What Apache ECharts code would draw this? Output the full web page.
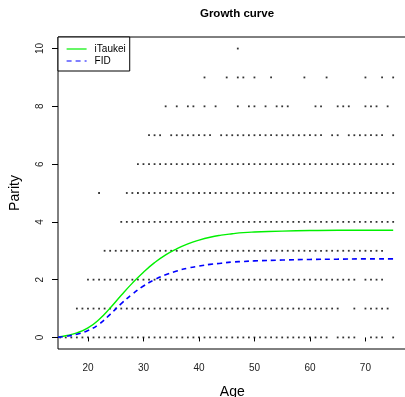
<!DOCTYPE html>
<html>
<head>
<meta charset="utf-8">
<script src="https://cdn.jsdelivr.net/npm/echarts@6/dist/echarts.min.js"></script>
<style>
  html, body { margin: 0; padding: 0; background: #fff; }
  #chart { width: 405px; height: 397px; }
</style>
</head>
<body>
<div id="chart"></div>
<script>
// Observed ages (years) at which each parity value occurs
const parity0Ages = [15,16,17,18,19,20,21,22,23,24,25,26,27,28,29,30,31,32,33,34,35,36,37,38,39,40,41,42,43,44,45,46,47,48,49,50,51,52,53,54,55,56,57,58,59,60,61,62,63,65,66,67,68,71,72,73,75];
const parity1Ages = [18,19,20,21,22,23,24,25,26,27,28,29,30,31,32,33,34,35,36,37,38,39,40,41,42,43,44,45,46,47,48,49,50,51,52,53,54,55,56,57,58,59,60,61,62,63,64,65,68,70,71,72,73,74];
const parity2Ages = [20,21,22,23,24,25,26,27,28,29,30,31,32,33,34,35,36,37,38,39,40,41,42,43,44,45,46,47,48,49,50,51,52,53,54,55,56,57,58,59,60,61,62,63,64,65,66,67,68,70,71,72,73];
const parity3Ages = [23,24,25,26,27,28,29,30,31,32,33,34,35,36,37,38,39,40,41,42,43,44,45,46,47,48,49,50,51,52,53,54,55,56,57,58,59,60,61,62,63,64,65,66,67,68,69,70,71,72,73];
const parity4Ages = [26,27,28,29,30,31,32,33,34,35,36,37,38,39,40,41,42,43,44,45,46,47,48,49,50,51,52,53,54,55,56,57,58,59,60,61,62,63,64,65,66,67,68,69,70,71,72,73,74,75];
const parity5Ages = [22,27,28,29,30,31,32,33,34,35,36,37,38,39,40,41,42,43,44,45,46,47,48,49,50,51,52,53,54,55,56,57,58,59,60,61,62,63,64,65,66,67,68,69,70,71,72,73,74,75];
const parity6Ages = [29,30,31,32,33,34,35,36,37,38,39,40,41,42,43,44,45,46,47,48,49,50,51,52,53,54,55,56,57,58,59,60,61,62,63,64,65,66,67,68,69,70,71,72,73,74,75];
const parity7Ages = [31,32,33,35,36,37,38,39,40,41,42,44,45,46,47,48,49,50,51,52,53,54,55,56,57,58,59,60,61,62,64,65,67,68,69,70,71,72,73,75];
const parity8Ages = [34,36,38,39,41,43,47,49,50,52,54,55,56,61,62,65,66,67,70,71,72,74];
const parity9Ages = [41,45,47,48,50,53,59,63,70,73,75];
const parity10Ages = [47];

// Fitted growth curves: mean parity by age
const curveAges     = [14.6, 16, 18, 20, 22, 24, 26, 28, 30, 32, 34, 36, 38, 40, 42, 44, 46, 48, 50, 55, 60, 65, 70, 75];
const iTaukeiParity = [0.02, 0.06, 0.16, 0.33, 0.62, 1.02, 1.46, 1.88, 2.26, 2.59, 2.86, 3.07, 3.24, 3.37, 3.47, 3.54, 3.59, 3.63, 3.65, 3.68, 3.70, 3.71, 3.71, 3.71];
const fidParity     = [0.01, 0.04, 0.11, 0.24, 0.46, 0.80, 1.17, 1.50, 1.78, 2.00, 2.17, 2.30, 2.40, 2.47, 2.53, 2.57, 2.61, 2.63, 2.65, 2.68, 2.70, 2.71, 2.72, 2.72];

// Axis tick labels
const ageTicks = [20, 30, 40, 50, 60, 70];
const parityTicks = [0, 2, 4, 6, 8, 10];

const parityRows = [parity0Ages, parity1Ages, parity2Ages, parity3Ages, parity4Ages, parity5Ages,
                    parity6Ages, parity7Ages, parity8Ages, parity9Ages, parity10Ages];
const observations = [];
parityRows.forEach((ages, parity) => ages.forEach(a => observations.push([a, parity])));

const pair = (xs, ys) => xs.map((x, i) => [x, ys[i]]);

const FONT = '"Liberation Sans", Arial, Helvetica, sans-serif';
const chart = echarts.init(document.getElementById('chart'), null, { renderer: 'canvas' });

chart.setOption({
  backgroundColor: '#fff',
  animation: false,
  title: {
    text: 'Growth curve',
    left: 232, top: 3,
    textAlign: 'center',
    textStyle: { fontFamily: FONT, fontSize: 11.5, fontWeight: 'bold', color: '#000' }
  },
  grid: {
    left: 58, top: 37, right: -1.5, bottom: 48,
    outerBoundsMode: 'none',
    show: true, borderColor: '#000', borderWidth: 1, backgroundColor: 'transparent'
  },
  legend: {
    data: ['iTaukei', 'FID'],
    orient: 'vertical',
    left: 58, top: 37,
    padding: [7, 4, 5, 8],
    itemGap: 2,
    itemWidth: 20, itemHeight: 10,
    itemStyle: { opacity: 0 },
    lineStyle: { width: 1.2 },
    borderColor: '#000', borderWidth: 1,
    backgroundColor: '#fff',
    textStyle: { fontFamily: FONT, fontSize: 10, color: '#000', padding: [0, 0, 0, 3] }
  },
  xAxis: {
    type: 'value', min: 14.6, max: 77.4,
    name: 'Age', nameLocation: 'middle', nameGap: 36,
    nameTextStyle: { fontFamily: FONT, fontSize: 14, color: '#000' },
    axisLine: { show: false },
    axisTick: { show: true, length: 4, customValues: ageTicks, lineStyle: { color: '#000' } },
    axisLabel: { customValues: ageTicks, margin: 14, fontFamily: FONT, fontSize: 10, color: '#222' },
    splitLine: { show: false }
  },
  yAxis: {
    type: 'value', min: -0.4, max: 10.4,
    name: 'Parity', nameLocation: 'middle', nameGap: 36, nameRotate: 90,
    nameTextStyle: { fontFamily: FONT, fontSize: 14, color: '#000' },
    axisLine: { show: false },
    axisTick: { show: true, length: 6, customValues: parityTicks, lineStyle: { color: '#000' } },
    axisLabel: { customValues: parityTicks, rotate: 90, margin: 13, fontFamily: FONT, fontSize: 10, color: '#222' },
    splitLine: { show: false }
  },
  series: [
    {
      name: 'observed', type: 'scatter', data: observations,
      symbol: 'rect', symbolSize: 1.8,
      itemStyle: { color: '#000' }, silent: true
    },
    {
      name: 'iTaukei', type: 'line', data: pair(curveAges, iTaukeiParity),
      smooth: 0.5, symbol: 'none',
      lineStyle: { color: '#00f000', width: 1.4 }, itemStyle: { color: '#00f000' }
    },
    {
      name: 'FID', type: 'line', data: pair(curveAges, fidParity),
      smooth: 0.5, symbol: 'none',
      lineStyle: { color: '#0000ff', width: 1.6, type: [5, 4] }, itemStyle: { color: '#0000ff' }
    }
  ]
});
</script>
</body>
</html>
